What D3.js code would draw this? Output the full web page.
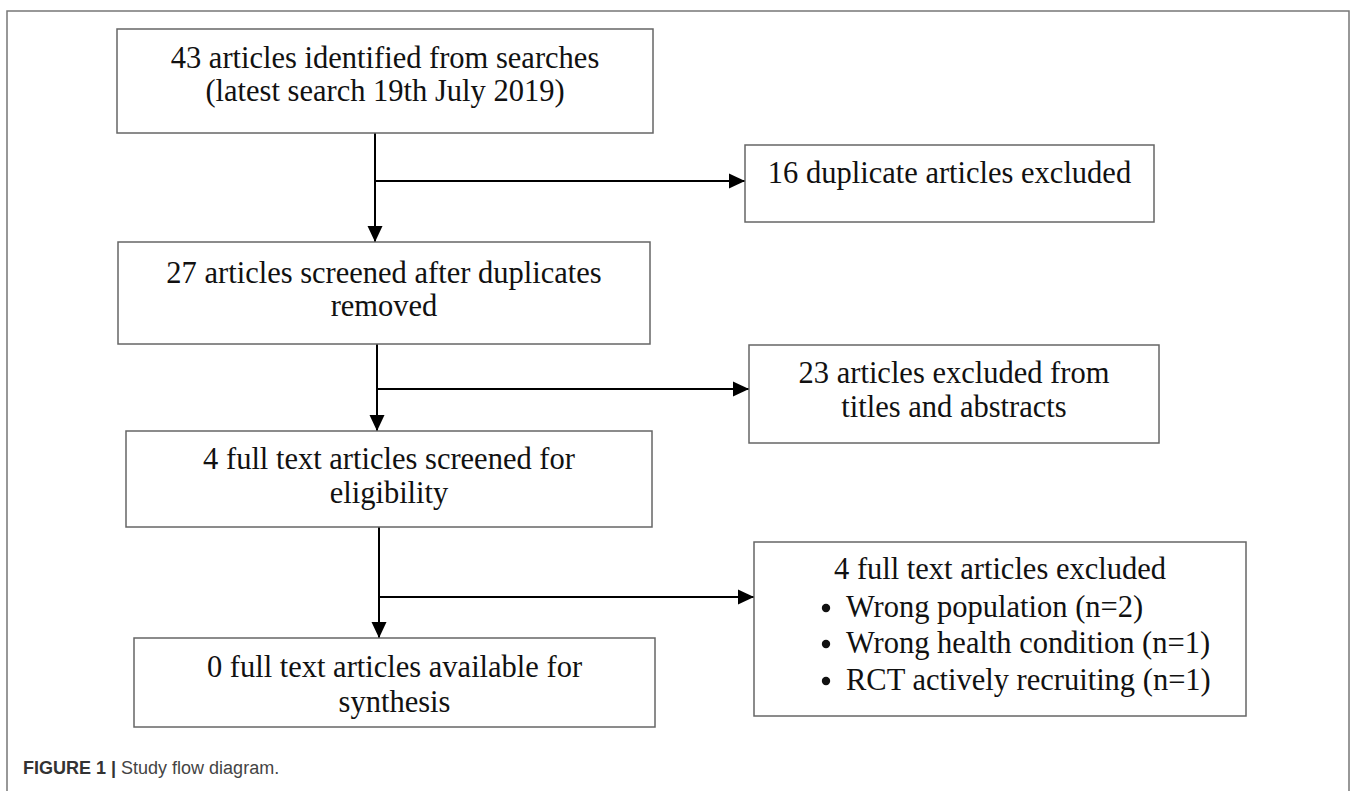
<!DOCTYPE html>
<html>
<head>
<meta charset="utf-8">
<script src="https://cdn.jsdelivr.net/npm/d3@7"></script>
<style>
  body { margin: 0; background: #fff; }
  svg { display: block; }
</style>
</head>
<body>
<div id="chart"></div>
<script>
// flow diagram content
const mainSteps = [
    ["43 articles identified from searches", "(latest search 19th July 2019)"],
    ["27 articles screened after duplicates", "removed"],
    ["4 full text articles screened for", "eligibility"],
    ["0 full text articles available for", "synthesis"]
];
const excludedSteps = [
    ["16 duplicate articles excluded"],
    ["23 articles excluded from", "titles and abstracts"],
    ["4 full text articles excluded"]
];
const exclusionReasons = [
    "Wrong population (n=2)",
    "Wrong health condition (n=1)",
    "RCT actively recruiting (n=1)"
];
const captionBold = "FIGURE 1 |";
const captionText = " Study flow diagram.";

// geometry (pixels)
const width = 1357, height = 791;
const mainLayout = [
    { x0: 117, x1: 653, y0: 29,  y1: 133, base: [68, 101] },
    { x0: 118, x1: 650, y0: 242, y1: 344, base: [283, 316] },
    { x0: 126, x1: 652, y0: 431, y1: 527, base: [469, 503] },
    { x0: 134, x1: 655, y0: 638, y1: 727, base: [677, 712] }
];
const sideLayout = [
    { x0: 745, x1: 1154, y0: 145, y1: 222, base: [183] },
    { x0: 749, x1: 1159, y0: 345, y1: 443, base: [383, 417] },
    { x0: 754, x1: 1246, y0: 542, y1: 716, base: [579] }
];
const trunkX = [375, 377, 379];
const branchY = [181, 389, 597];
const reasonBase = [617, 653, 690];
const fontSize = "30.5px";

const svg = d3.select("#chart").append("svg")
    .attr("width", width)
    .attr("height", height);

svg.append("defs").append("marker")
    .attr("id", "arrow")
    .attr("viewBox", "0 0 16 16")
    .attr("refX", 16).attr("refY", 8)
    .attr("markerWidth", 16).attr("markerHeight", 16)
    .attr("markerUnits", "userSpaceOnUse")
    .attr("orient", "auto")
    .append("path")
    .attr("d", "M0,0.5 L16,8 L0,15.5 Z")
    .attr("fill", "#000");

// outer frame
svg.append("path")
    .attr("d", `M7,${height + 5} L7,11 L1349,11 L1349,${height + 5}`)
    .attr("fill", "none")
    .attr("stroke", "#777")
    .attr("stroke-width", 1.5);

const serif = "'Liberation Serif', 'Times New Roman', serif";

function drawBox(g, box, lines) {
    g.append("rect")
        .attr("x", box.x0).attr("y", box.y0)
        .attr("width", box.x1 - box.x0).attr("height", box.y1 - box.y0)
        .attr("fill", "#fff")
        .attr("stroke", "#666")
        .attr("stroke-width", 1.5);
    g.selectAll(null)
        .data(lines).enter().append("text")
        .attr("x", (box.x0 + box.x1) / 2)
        .attr("y", (d, i) => box.base[i])
        .attr("text-anchor", "middle")
        .style("font-family", serif)
        .style("font-size", fontSize)
        .attr("fill", "#111")
        .text(d => d);
}

// connectors
const links = svg.append("g");
mainLayout.slice(0, -1).forEach((b, i) => {
    const next = mainLayout[i + 1];
    links.append("line")
        .attr("x1", trunkX[i]).attr("y1", b.y1)
        .attr("x2", trunkX[i]).attr("y2", next.y0)
        .attr("stroke", "#000").attr("stroke-width", 2)
        .attr("marker-end", "url(#arrow)");
    links.append("line")
        .attr("x1", trunkX[i]).attr("y1", branchY[i])
        .attr("x2", sideLayout[i].x0).attr("y2", branchY[i])
        .attr("stroke", "#000").attr("stroke-width", 2)
        .attr("marker-end", "url(#arrow)");
});

const boxes = svg.append("g");
mainSteps.forEach((lines, i) => drawBox(boxes, mainLayout[i], lines));
excludedSteps.forEach((lines, i) => drawBox(boxes, sideLayout[i], lines));

// bullet list in last exclusion box
const reasons = svg.append("g");
reasons.selectAll("circle")
    .data(exclusionReasons).enter().append("circle")
    .attr("cx", 826)
    .attr("cy", (d, i) => reasonBase[i] - 9)
    .attr("r", 4.2)
    .attr("fill", "#111");
reasons.selectAll("text")
    .data(exclusionReasons).enter().append("text")
    .attr("x", 846)
    .attr("y", (d, i) => reasonBase[i])
    .style("font-family", serif)
    .style("font-size", fontSize)
    .attr("fill", "#111")
    .text(d => d);

// caption
const cap = svg.append("text")
    .attr("x", 23).attr("y", 774)
    .style("font-family", "'Liberation Sans', Arial, sans-serif")
    .style("font-size", "18px");
cap.append("tspan").attr("font-weight", "bold").attr("fill", "#333").text(captionBold);
cap.append("tspan").attr("fill", "#444").text(captionText);
</script>
</body>
</html>
